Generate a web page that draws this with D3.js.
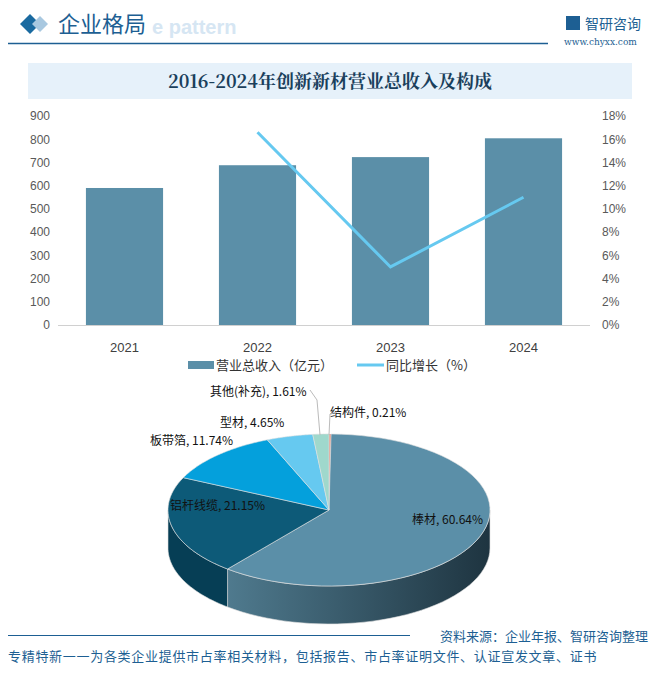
<!DOCTYPE html><html><head><meta charset="utf-8"><script src="https://cdn.jsdelivr.net/npm/d3@7"></script>
<style>body{margin:0;background:#fff}svg{display:block;font-family:"Microsoft YaHei","Noto Sans CJK SC",sans-serif}</style></head><body><svg id="c" width="661" height="674"></svg>
<script>
const years=["2021","2022","2023","2024"];
const revenue=[590,688,723,804];
const growth=[null,16.6,5.0,11.0];
const leftTicks=[0,100,200,300,400,500,600,700,800,900];
const rightTicks=[0,2,4,6,8,10,12,14,16,18];
const pieNames=["结构件","棒材","铝杆线缆","板带箔","型材","其他(补充)"];
const pieVals=[0.21,60.64,21.15,11.74,4.65,1.61];
const pieColors=["#e8826a","#5b8fa8","#0d5a78","#04a0dc","#66c9f0","#9fd8cc"];
const pieSide=["#b05a48","#2f5566","#063e55","#036f99","#3d9cc4","#6fb0a4"];

const svg=d3.select("#c");
// header
svg.append("text").attr("x",152).attr("y",34).attr("font-size",20).attr("font-weight","bold").attr("fill","#d6e6f3").attr("font-family","Arial").text("e pattern");
svg.append("path").attr("d","M20,24 L30,14 L40,24 L30,34Z").attr("fill","#1a6aa0");
svg.append("path").attr("d","M32,24 L40,16 L48,24 L40,32Z").attr("fill","#a8c8e0");
svg.append("text").attr("x",58).attr("y",32).attr("font-size",22).attr("fill","#1d5f93").text("企业格局");
svg.append("line").attr("x1",8).attr("x2",548).attr("y1",43.5).attr("y2",43.5).attr("stroke","#1d5f93").attr("stroke-width",1.5);
svg.append("rect").attr("x",566).attr("y",16).attr("width",14).attr("height",14).attr("fill","#1d5f93");
svg.append("text").attr("x",585).attr("y",29).attr("font-size",14).attr("fill","#1d5f93").text("智研咨询");
svg.append("text").attr("x",564).attr("y",45).attr("font-size",9).attr("fill","#1d5f93").attr("font-family","DejaVu Serif").text("www.chyxx.com");
svg.append("rect").attr("x",28).attr("y",63).attr("width",604).attr("height",36).attr("fill","#e6f1fa");
svg.append("text").attr("x",330).attr("y",88).attr("text-anchor","middle").attr("font-size",18).attr("font-weight","bold").attr("fill","#1a3f5c").attr("font-family","Noto Serif CJK SC,DejaVu Serif,serif").text("2016-2024年创新新材营业总收入及构成");

// bar chart
const x=d3.scaleBand().domain(years).range([58,590]).paddingInner(0.42).paddingOuter(0.21);
const y=d3.scaleLinear().domain([0,900]).range([325,116]);
const y2=d3.scaleLinear().domain([0,18]).range([325,116]);
const g=svg.append("g");
g.selectAll("rect.b").data(years).join("rect").attr("x",d=>x(d)).attr("width",x.bandwidth())
 .attr("y",(d,i)=>y(revenue[i])).attr("height",(d,i)=>325-y(revenue[i])).attr("fill","#5b8fa8");
g.append("line").attr("x1",58).attr("x2",590).attr("y1",325.5).attr("y2",325.5).attr("stroke","#d0d0d0");
const ax=g.append("g").attr("transform","translate(50,0)").call(d3.axisLeft(y).tickValues(leftTicks).tickSize(0).tickPadding(0));
const ax2=g.append("g").attr("transform","translate(602,0)").call(d3.axisRight(y2).tickValues(rightTicks).tickFormat(d=>d+"%").tickSize(0).tickPadding(0));
const ax3=g.append("g").attr("transform","translate(0,325)").call(d3.axisBottom(x).tickSize(0).tickPadding(18));
[ax,ax2,ax3].forEach(a=>{a.select(".domain").remove();a.selectAll("text").attr("fill","#595959").attr("font-size",12).attr("font-family","Liberation Sans Narrow,Arial Narrow,sans-serif")});
ax3.selectAll("text").attr("fill","#404040").attr("font-size",13);
const pts=years.map((d,i)=>[x(d)+x.bandwidth()/2,growth[i]]).filter(p=>p[1]!=null);
g.append("path").attr("d",d3.line().x(p=>p[0]).y(p=>y2(p[1]))(pts)).attr("fill","none").attr("stroke","#66c9f0").attr("stroke-width",3);
// legend
svg.append("rect").attr("x",188).attr("y",361).attr("width",26).attr("height",8).attr("fill","#5b8fa8");
svg.append("text").attr("x",216).attr("y",370).attr("font-size",13).attr("fill","#333").text("营业总收入（亿元）");
svg.append("line").attr("x1",357).attr("x2",384).attr("y1",365).attr("y2",365).attr("stroke","#66c9f0").attr("stroke-width",3);
svg.append("text").attr("x",386).attr("y",370).attr("font-size",13).attr("fill","#333").text("同比增长（%）");

// 3D pie
const cx=329,cy=510,rx=161,ry=76,dep=38;
const pie=d3.pie().sort(null).value(d=>d)(pieVals);
const P=(t,dy=0)=>[cx+rx*Math.sin(t),cy-ry*Math.cos(t)+dy];
const pg=svg.append("g");
const defs=svg.append("defs");
const gr=defs.append("linearGradient").attr("id","sg").attr("x1","0").attr("x2","1");
gr.append("stop").attr("offset","0").attr("stop-color","#4f7a8e");
gr.append("stop").attr("offset","1").attr("stop-color","#1e3440");
pie.forEach((s,i)=>{
 let a=Math.max(s.startAngle,Math.PI/2),b=Math.min(s.endAngle,3*Math.PI/2);
 if(b<=a)return;
 const n=40,top=[],bot=[];
 for(let k=0;k<=n;k++){const t=a+(b-a)*k/n;top.push(P(t));bot.push(P(t,dep));}
 const d="M"+top.map(p=>p.join(",")).join("L")+"L"+bot.reverse().map(p=>p.join(",")).join("L")+"Z";
 pg.append("path").attr("d",d).attr("fill",i==1?"url(#sg)":pieSide[i]).attr("stroke","#ddd").attr("stroke-width",0.6);
});
pie.forEach((s,i)=>{
 const n=60,pts=[];
 for(let k=0;k<=n;k++){pts.push(P(s.startAngle+(s.endAngle-s.startAngle)*k/n));}
 pg.append("path").attr("d","M"+cx+","+cy+"L"+pts.map(p=>p.join(",")).join("L")+"Z").attr("fill",pieColors[i]).attr("stroke","#e0e0e0").attr("stroke-width",0.6);
});
const lbl=[[330,417],[412,524],[170,510],[150,445],[220,427],[210,396]];
pie.forEach((s,i)=>{svg.append("text").attr("x",lbl[i][0]).attr("y",lbl[i][1]).attr("font-size",12).attr("fill","#111").text(pieNames[i]+", "+pieVals[i].toFixed(2)+"%");});
svg.append("polyline").attr("points","310,390 317,400 320,435").attr("fill","none").attr("stroke","#bbb");
svg.append("polyline").attr("points","337,412 330,414 329,435").attr("fill","none").attr("stroke","#bbb");

// footer
svg.append("line").attr("x1",8).attr("x2",410).attr("y1",635.5).attr("y2",635.5).attr("stroke","#1d5f93").attr("stroke-width",1.2);
svg.append("text").attr("x",648).attr("y",641).attr("text-anchor","end").attr("font-size",13).attr("fill","#1d5f93").text("资料来源：企业年报、智研咨询整理");
svg.append("text").attr("x",8).attr("y",661).attr("font-size",13).attr("letter-spacing",0.7).attr("fill","#1d5f93").text("专精特新一一为各类企业提供市占率相关材料，包括报告、市占率证明文件、认证宣发文章、证书");
</script></body></html>
